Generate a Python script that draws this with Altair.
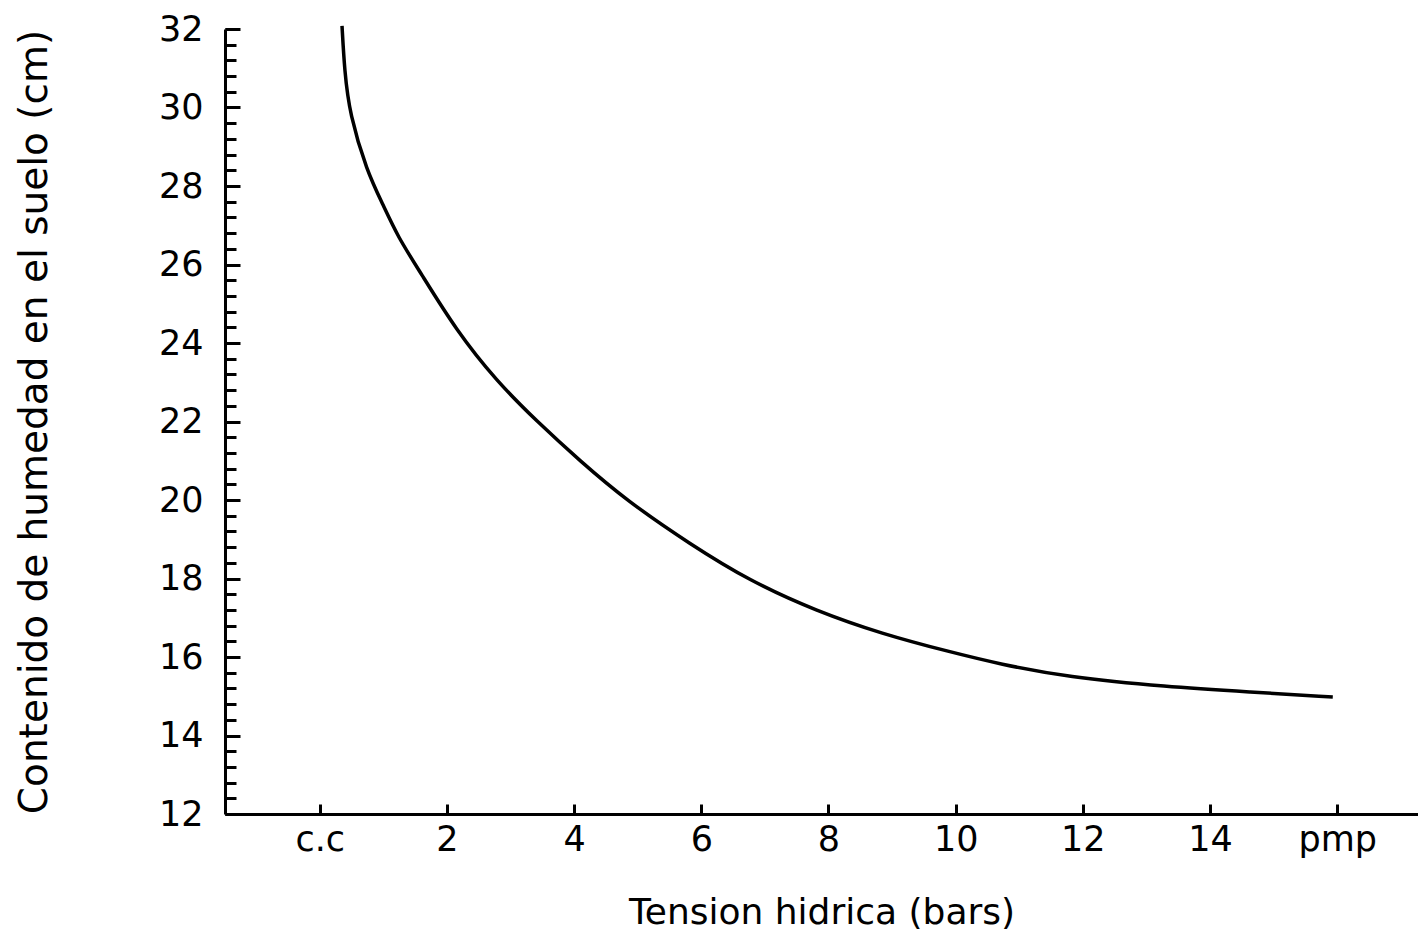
import altair as alt
import pandas as pd

# Curve
tension = [0.35, 0.39, 0.47, 0.74, 0.99, 1.23, 1.57, 2.15, 2.78, 3.41, 4.09, 4.83,
           5.82, 6.76, 7.81, 8.84, 9.91, 10.69, 11.75, 13.32, 14.62, 15.93]
humedad = [32.08, 30.93, 29.83, 28.38, 27.54, 26.70, 25.83, 24.31, 23.03, 22.01, 21.00, 19.98,
           18.88, 17.94, 17.17, 16.59, 16.13, 15.82, 15.49, 15.24, 15.11, 14.98]

x_ticks = [0, 2, 4, 6, 8, 10, 12, 14, 16]
x_tick_labels = ["c.c", "2", "4", "6", "8", "10", "12", "14", "pmp"]
y_ticks = [12, 14, 16, 18, 20, 22, 24, 26, 28, 30, 32]
y_minor = [round(12 + 0.4 * i, 1) for i in range(51)]

X_DOMAIN = [-1.49, 17.27]
Y_DOMAIN = [12, 32]
W, H = 1193, 785
FONT = "DejaVu Sans"

df = pd.DataFrame({"t": tension, "h": humedad})

label_expr = " : ".join(
    f"datum.value == {v} ? '{l}'" for v, l in zip(x_ticks, x_tick_labels)
) + " : datum.label"

xs = alt.Scale(domain=X_DOMAIN, nice=False, zero=False)
ys = alt.Scale(domain=Y_DOMAIN, nice=False, zero=False)

curve = alt.Chart(df).mark_line(color="black", strokeWidth=3.5, interpolate="basis").encode(
    x=alt.X("t:Q", scale=xs, axis=alt.Axis(
        orient="bottom", values=x_ticks, labelExpr=label_expr, ticks=False, tickSize=0,
        domain=True, domainColor="black", domainWidth=3, labelPadding=8,
        labelFont=FONT, labelFontSize=35, labelColor="black",
        title="Tension hidrica (bars)", titleFont=FONT, titleFontSize=36,
        titleFontWeight="normal", titleColor="black", titlePadding=38)),
    y=alt.Y("h:Q", scale=ys, axis=alt.Axis(
        orient="left", values=y_ticks, ticks=False, tickSize=0,
        domain=True, domainColor="black", domainWidth=3, labelPadding=22,
        labelFont=FONT, labelFontSize=35, labelColor="black",
        title="Contenido de humedad en el suelo (cm)", titleFont=FONT, titleFontSize=39,
        titleFontWeight="normal", titleColor="black", titlePadding=104)),
)

major_ticks = alt.Chart(df).mark_line(opacity=0).encode(
    x=alt.X("t:Q", scale=xs, axis=alt.Axis(
        orient="top", offset=-H, values=x_ticks, labels=False, domain=False,
        ticks=True, tickSize=10, tickWidth=3, tickColor="black", title=None)),
    y=alt.Y("h:Q", scale=ys, axis=alt.Axis(
        orient="right", offset=-W, values=y_ticks, labels=False, domain=False,
        ticks=True, tickSize=15, tickWidth=3, tickColor="black", title=None)),
)

minor_ticks = alt.Chart(df).mark_line(opacity=0).encode(
    x=alt.X("t:Q", scale=xs, axis=None),
    y=alt.Y("h:Q", scale=ys, axis=alt.Axis(
        orient="right", offset=-W, values=y_minor, labels=False, domain=False,
        ticks=True, tickSize=11, tickWidth=3, tickColor="black", title=None)),
)

chart = alt.layer(curve, major_ticks, minor_ticks).resolve_axis(
    x="independent", y="independent"
).properties(
    width=W, height=H,
    autosize=alt.AutoSizeParams(type="none"),
    padding={"left": 217, "top": 21, "right": 0, "bottom": 123},
    background="white",
).configure_view(stroke=None).configure_axis(grid=False)

chart.save("out.html", embed_options={"renderer": "svg", "actions": False})
